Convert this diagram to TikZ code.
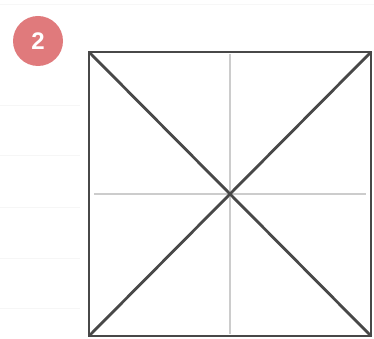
\documentclass[tikz,border=0pt]{standalone}
\usepackage{fontspec}
\setmainfont{Liberation Sans}
\usetikzlibrary{calc}

\definecolor{badgered}{RGB}{224,122,124}
\definecolor{edgegray}{RGB}{72,72,72}

\begin{document}
\begin{tikzpicture}[x=1pt, y=-1pt, line join=miter]
    \useasboundingbox (0,0) rectangle (374,339);

    % 背景淡横线
    \draw[gray!6, line width=0.8] (0,4) -- (374,4);
    \foreach \y in {105,155,207,258,308}
        \draw[gray!7, line width=0.8] (0,\y) -- (80,\y);

    % 正方形顶点
    \coordinate (A) at (89,336);
    \coordinate (B) at (371,336);
    \coordinate (C) at (371,52);
    \coordinate (D) at (89,52);

    \coordinate (O) at ($(A)!0.5!(C)$); % 中心 O
    \coordinate (P) at ($(D)!0.5!(C)$); % 上边中点
    \coordinate (Q) at ($(A)!0.5!(B)$); % 下边中点
    \coordinate (R) at ($(A)!0.5!(D)$); % 左边中点
    \coordinate (S) at ($(B)!0.5!(C)$); % 右边中点

    % 折痕：中线
    \draw[gray!40, line width=1.3, shorten <=2pt, shorten >=2pt] (P) -- (Q);
    \draw[gray!40, line width=1.3, shorten <=5pt, shorten >=5pt] (R) -- (S);

    % 对角线
    \draw[edgegray, line width=2.8, line cap=round] (A) -- (C);
    \draw[edgegray, line width=2.8, line cap=round] (B) -- (D);

    % 外框
    \draw[edgegray, line width=2] (A) -- (B) -- (C) -- (D) -- cycle;

    % 步骤编号
    \node[circle, fill=badgered, minimum size=50pt, inner sep=0pt, text=white,
          font=\bfseries\fontsize{24}{24}\selectfont] (badge) at (38,41) {2};
\end{tikzpicture}
\end{document}
